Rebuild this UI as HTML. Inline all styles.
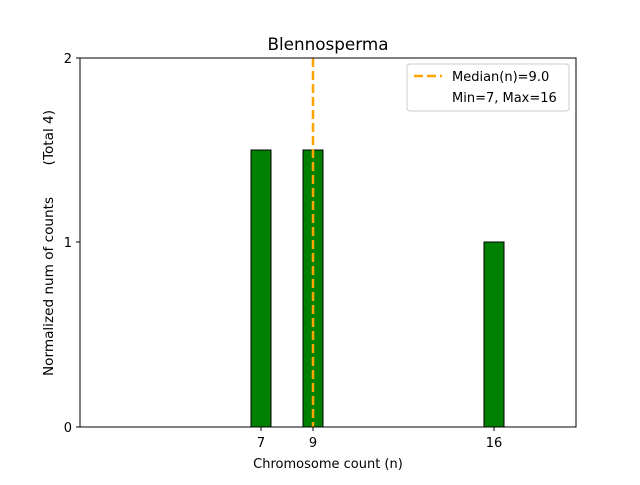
<!DOCTYPE html>
<html><head><meta charset="utf-8"><style>body{margin:0;background:#fff}</style></head><body>
<svg width="640" height="480" xmlns="http://www.w3.org/2000/svg" font-family="DejaVu Sans, Liberation Sans, sans-serif">
<rect width="640" height="480" fill="#fff"/>
<text x="328" y="50" font-size="16.8" text-anchor="middle">Blennosperma</text>
<rect x="251" y="150" width="20" height="277" fill="#008000" stroke="#000" stroke-width="1"/>
<rect x="303" y="150" width="20" height="277" fill="#008000" stroke="#000" stroke-width="1"/>
<rect x="484" y="242" width="20" height="185" fill="#008000" stroke="#000" stroke-width="1"/>
<line x1="313" y1="58" x2="313" y2="427" stroke="#ffa500" stroke-width="2.5" stroke-dasharray="9,4"/>
<rect x="80" y="58" width="496" height="369" fill="none" stroke="#000" stroke-width="1"/>
<g stroke="#000" stroke-width="1">
<line x1="261" y1="427" x2="261" y2="431"/><line x1="313" y1="427" x2="313" y2="431"/><line x1="494" y1="427" x2="494" y2="431"/>
<line x1="76" y1="427" x2="80" y2="427"/><line x1="76" y1="242" x2="80" y2="242"/><line x1="76" y1="58" x2="80" y2="58"/>
</g>
<g font-size="13" text-anchor="middle">
<text x="261" y="447">7</text><text x="313" y="447">9</text><text x="494" y="447">16</text>
<text x="328" y="468">Chromosome count (n)</text>
</g>
<g font-size="13" text-anchor="end">
<text x="72" y="432">0</text><text x="72" y="247">1</text><text x="72" y="63">2</text>
</g>
<text transform="translate(53,376) rotate(-90)" font-size="13.6" text-anchor="start">Normalized num of counts</text>
<text transform="translate(53,110) rotate(-90)" font-size="13.6" text-anchor="end">(Total 4)</text>
<rect x="407" y="64" width="162" height="47" rx="3" fill="#fff" stroke="#ccc" stroke-width="1"/>
<line x1="414" y1="76" x2="442" y2="76" stroke="#ffa500" stroke-width="2.5" stroke-dasharray="9,4"/>
<text x="452" y="81" font-size="13">Median(n)=9.0</text>
<text x="452" y="102" font-size="13">Min=7, Max=16</text>
</svg>
</body></html>
